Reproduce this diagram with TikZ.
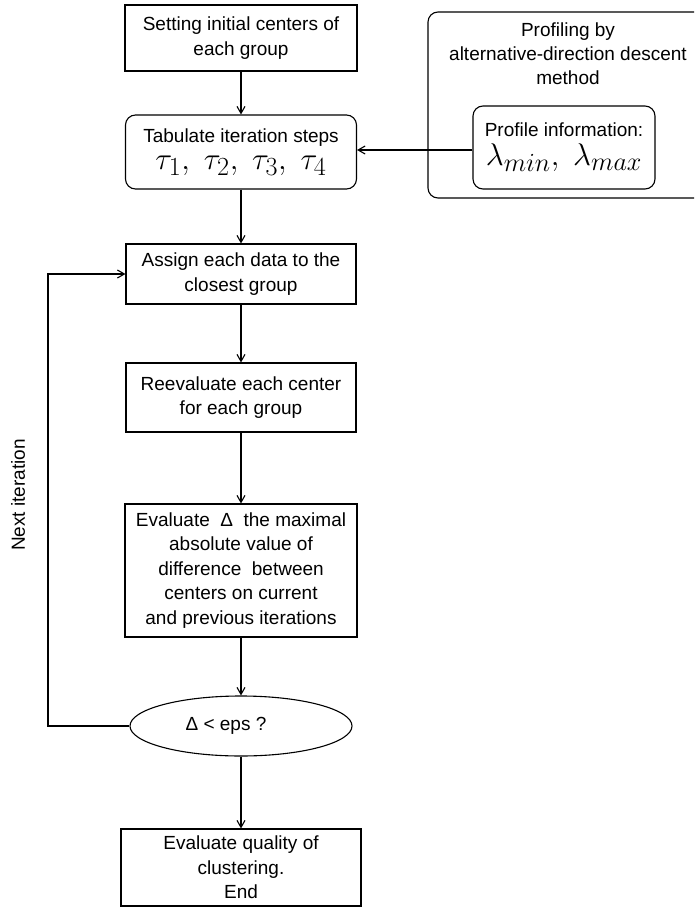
\documentclass[tikz,border=0pt]{standalone}
\usepackage{graphicx}
\usepackage{fontspec}
\setmainfont{Liberation Sans}
\usetikzlibrary{arrows.meta,shapes.geometric}
\newcommand{\mathbig}[1]{\scalebox{1.26}{\fontsize{24.88}{28}\selectfont$#1$}}
\tikzset{
  box/.style={draw, line width=1.1pt, align=center, inner sep=0pt,
    font=\fontsize{19}{24.5}\selectfont},
  rbox/.style={box, rounded corners=10pt},
  arr/.style={-{Straight Barb[length=7pt,width=8pt]}, line width=1.1pt},
  lbl/.style={align=center, inner sep=0pt, font=\fontsize{19}{24}\selectfont}
}
\begin{document}
\begin{tikzpicture}[x=1pt,y=-1pt]
\path[use as bounding box] (0,0) rectangle (694,907);
\clip (0,0) rectangle (694,907);
\fill[white] (0,0) rectangle (694,907);

% main column
\node[box, minimum width=232, minimum height=66] (init) at (241,38)
  {Setting initial centers of\\each group};
\node[rbox, minimum width=231, minimum height=74] (tab) at (241,152)
  {Tabulate iteration steps\\[3pt]\mathbig{\tau_1,\ \tau_2,\ \tau_3,\ \tau_4}};
\node[box, minimum width=230, minimum height=60] (assign) at (241,274)
  {Assign each data to the\\closest group};
\node[box, minimum width=230, minimum height=69] (reeval) at (241,397.5)
  {Reevaluate each center\\for each group};
\node[box, minimum width=232, minimum height=133] (evald) at (241,570.5)
  {Evaluate\ \ Δ\ \ the maximal\\absolute value of\\difference\ \ between\\centers on current\\and previous iterations};
\node[box, ellipse, minimum width=222, minimum height=60] (test) at (241,726)
  {Δ < eps ?\hspace*{30pt}};
\node[box, minimum width=240, minimum height=77] (quality) at (241,867.5)
  {Evaluate quality of\\clustering.\\End};

% profiling block
\node[draw, line width=1.1pt, rounded corners=10pt, minimum width=280,
  minimum height=186, inner sep=0pt] (prof) at (568,105) {};
\node[lbl] (proftext) at (568,54)
  {Profiling by\\alternative-direction descent\\method};
\node[rbox, minimum width=182, minimum height=83] (info) at (564,147.5)
  {Profile information:\\[4pt]\mathbig{\lambda_{min},\ \lambda_{max}}};

% connectors
\draw[arr] (init.south) -- (tab.north);
\draw[arr] (info.west |- 0,150) -- (tab.east |- 0,150);
\draw[arr] (tab.south) -- (assign.north);
\draw[arr] (assign.south) -- (reeval.north);
\draw[arr] (reeval.south) -- (evald.north);
\draw[arr] (evald.south) -- (test.north);
\draw[arr] (test.south) -- (quality.north);
\coordinate (loop) at (48,726);
\draw[arr] (test.west) -- (loop) |- (assign.west);
\node[lbl, rotate=90] (next) at (18,495) {Next iteration};
\end{tikzpicture}
\end{document}
